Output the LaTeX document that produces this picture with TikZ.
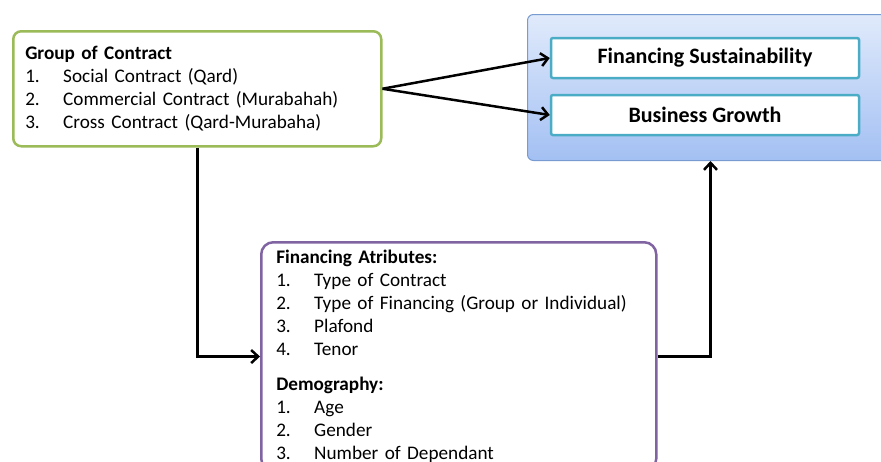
\documentclass[tikz,border=0pt]{standalone}
\usepackage{fontspec}
\setmainfont{Carlito}
\usetikzlibrary{arrows.meta,positioning}

\definecolor{grpgreen}{RGB}{155,187,89}
\definecolor{attrpurple}{RGB}{128,100,162}
\definecolor{outline}{RGB}{120,155,210}
\definecolor{outtop}{RGB}{224,234,251}
\definecolor{outbot}{RGB}{163,192,243}
\definecolor{tealline}{RGB}{75,172,198}

\newcommand{\itm}[2]{\makebox[38pt][l]{#1}#2}

\begin{document}
\begin{tikzpicture}[x=1pt, y=-1pt, >={Straight Barb[length=7pt,width=13pt]}, line width=2.5pt,
    every node/.style={font=\fontsize{19.2}{23}\selectfont}]
  \useasboundingbox (0,0) rectangle (881,461);

  % 1. outcome panel with its two boxes
  \node[draw=outline, line width=1pt, rounded corners=6pt, top color=outtop, bottom color=outbot,
        minimum width=366pt, minimum height=146pt, anchor=north west] (out) at (527,14) {};
  \node[draw=tealline, line width=2.5pt, fill=white, rounded corners=2pt, minimum width=308pt,
        minimum height=40pt, font=\bfseries\fontsize{22}{24}\selectfont] (fin) at (705,58) {Financing Sustainability};
  \node[draw=tealline, line width=2.5pt, fill=white, rounded corners=2pt, minimum width=308pt,
        minimum height=40pt, font=\bfseries\fontsize{22}{24}\selectfont] (bg) at (705,115) {Business Growth};

  % 2. contract group box
  \node[draw=grpgreen, line width=2.5pt, fill=white, rounded corners=8pt, anchor=north west,
        minimum width=368pt, minimum height=115pt, inner xsep=12pt, text width=344pt, align=left] (grp) at (12,30)
    {\textbf{Group of Contract}\\
     \itm{1.}{Social Contract (Qard)}\\
     \itm{2.}{Commercial Contract (Murabahah)}\\
     \itm{3.}{Cross Contract (Qard-Murabaha)}};

  % 3. attributes box, cut by the lower edge
  \node[draw=attrpurple, line width=2.5pt, fill=white, rounded corners=12pt, anchor=north west,
        inner xsep=15pt, inner ysep=8pt, text width=365pt, align=left] (attr) at (260,241)
    {\textbf{Financing Atributes:}\\
     \itm{1.}{Type of Contract}\\
     \itm{2.}{Type of Financing (Group or Individual)}\\
     \itm{3.}{Plafond}\\
     \itm{4.}{Tenor}\\[12pt]
     \textbf{Demography:}\\
     \itm{1.}{Age}\\
     \itm{2.}{Gender}\\
     \itm{3.}{Number of Dependant}};

  % 4. connectors
  \draw[->] (grp.east) -- (fin.west);
  \draw[->] (grp.east) -- (bg.west);
  \draw[->] (grp.south) |- (attr.west);
  \draw[->] (attr.east) -| (out.south);
\end{tikzpicture}
\end{document}
